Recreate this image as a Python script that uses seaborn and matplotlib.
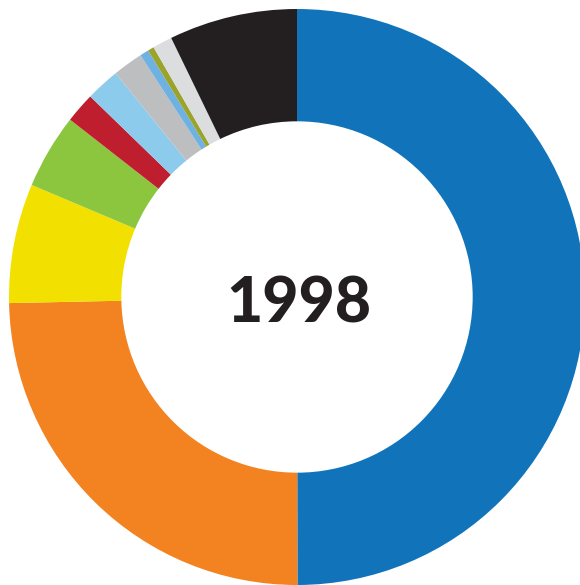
import matplotlib
matplotlib.use("Agg")
import matplotlib.pyplot as plt
import seaborn as sns

categories = ["Blue", "Orange", "Yellow", "Green", "Red", "Light blue",
              "Gray", "Mid blue", "Olive", "Light gray", "Black"]
shares = [50.0, 24.7, 6.7, 4.2, 1.7, 1.9, 1.7, 0.5, 0.35, 1.1, 7.2]
colors = ["#1174bb", "#f38220", "#f2e100", "#8cc63f", "#be1e2d", "#8dcbec",
          "#bcbec0", "#6fb1e1", "#9ba32a", "#dcddde", "#231f20"]
year = "1998"

sns.set_theme(style="white")

fig = plt.figure(figsize=(5.8, 5.85), dpi=100)
ax = fig.add_axes([9 / 580, 0, 576 / 580, 576 / 585])
ax.pie(shares, colors=colors, startangle=90, counterclock=False, radius=1,
       wedgeprops=dict(width=0.39, linewidth=0))
ax.set_xlim(-1, 1)
ax.set_ylim(-1, 1)
ax.set_aspect("equal")
ax.axis("off")

ax.text(0.005, -0.025, year, ha="center", va="center", fontsize=45,
        fontweight="black", family=["Lato", "DejaVu Sans"], color="#231f20")

fig.savefig("out.png", dpi=100)
